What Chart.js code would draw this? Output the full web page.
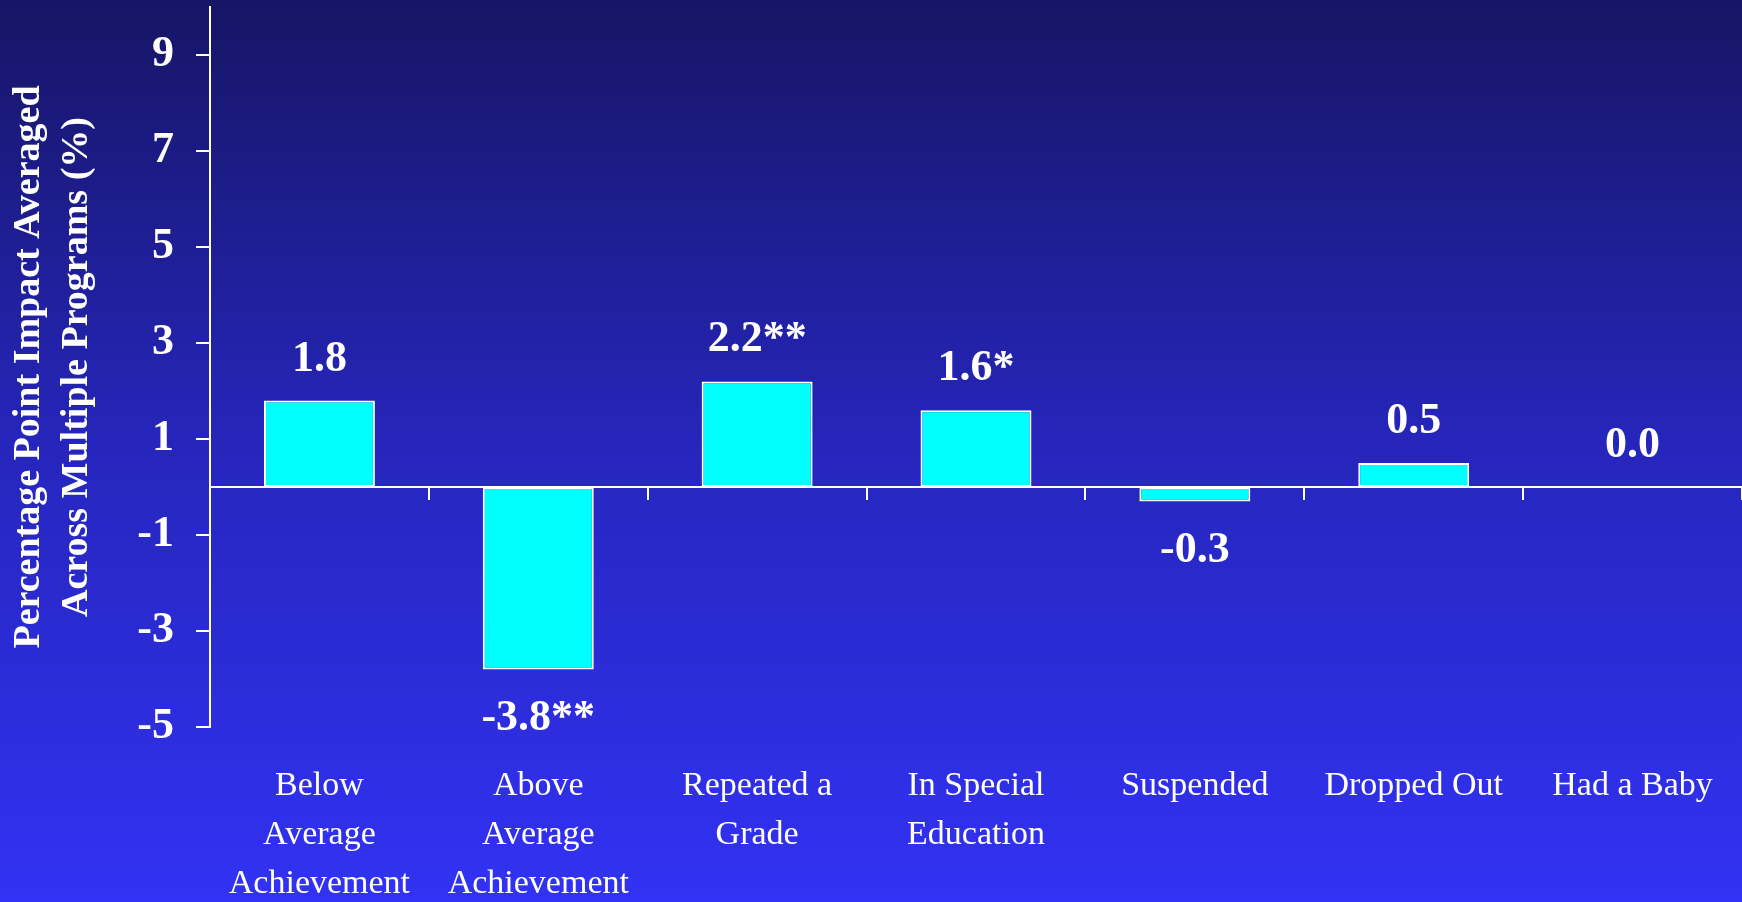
<!DOCTYPE html>
<html>
<head>
<meta charset="utf-8">
<script src="https://cdn.jsdelivr.net/npm/chart.js@4.4.1/dist/chart.umd.min.js"></script>
<style>
  html, body { margin: 0; padding: 0; background: #23239c; }
  #wrap { width: 1742px; height: 902px; position: relative; }
</style>
</head>
<body>
<div id="wrap"><canvas id="impactChart"></canvas></div>
<script>
const categories = [
    ['Below', 'Average', 'Achievement'],
    ['Above', 'Average', 'Achievement'],
    ['Repeated a', 'Grade'],
    ['In Special', 'Education'],
    ['Suspended'],
    ['Dropped Out'],
    ['Had a Baby']
];
const impact = [1.8, -3.8, 2.2, 1.6, -0.3, 0.5, 0.0];
const significance = ['', '**', '**', '*', '', '', ''];
const yTicks = [-5, -3, -1, 1, 3, 5, 7, 9];
const yTitle = ['Percentage Point Impact Averaged', 'Across Multiple Programs (%)'];

const serif = '"Liberation Serif", "Times New Roman", Times, serif';

// slide-style vertical gradient behind everything
const backdrop = {
    id: 'backdrop',
    beforeDraw(chart) {
        const {ctx, width, height} = chart;
        const g = ctx.createLinearGradient(0, 0, 0, height);
        g.addColorStop(0, '#161565');
        g.addColorStop(0.5, '#2626bd');
        g.addColorStop(1, '#3232f4');
        ctx.save();
        ctx.fillStyle = g;
        ctx.fillRect(0, 0, width, height);
        ctx.restore();
    }
};

// value (+ significance stars) above positive bars, below negative ones
const valueLabels = {
    id: 'valueLabels',
    afterDatasetsDraw(chart) {
        const {ctx} = chart;
        const meta = chart.getDatasetMeta(0);
        ctx.save();
        ctx.fillStyle = '#ffffff';
        ctx.font = 'bold 44px ' + serif;
        ctx.textAlign = 'center';
        ctx.textBaseline = 'alphabetic';
        meta.data.forEach((bar, i) => {
            const v = impact[i];
            const text = v.toFixed(1) + significance[i];
            const y = v >= 0 ? bar.y - 30 : bar.y + 61;
            ctx.fillText(text, bar.x, y);
        });
        ctx.restore();
    }
};

// stop the axes from reserving extra room for half-labels at their ends
function noEdgePadding(scale) {
    scale.paddingTop = 0;
    scale.paddingBottom = 0;
    scale.paddingLeft = 0;
    scale.paddingRight = 0;
}

const ctx = document.getElementById('impactChart').getContext('2d');
const impactChart = new Chart(ctx, {
    type: 'bar',
    data: {
        labels: categories,
        datasets: [{
            data: impact,
            backgroundColor: '#00ffff',
            borderColor: '#ffffff',
            borderWidth: 2,
            borderSkipped: false,
            categoryPercentage: 1,
            barPercentage: 0.507
        }]
    },
    options: {
        responsive: true,
        maintainAspectRatio: false,
        animation: false,
        layout: {
            padding: { top: 7, left: 0, right: 0, bottom: 0 }
        },
        scales: {
            x: {
                type: 'category',
                position: 'bottom',
                offset: true,
                grid: { display: false, drawTicks: false },
                border: { display: false },
                ticks: {
                    color: '#ffffff',
                    autoSkip: false,
                    maxRotation: 0,
                    padding: 35,
                    font: { family: serif, size: 34, lineHeight: 1.44 }
                },
                afterFit(scale) {
                    scale.height = 175;
                    noEdgePadding(scale);
                }
            },
            // zero line with the little category separators hanging off it
            x0: {
                type: 'category',
                axis: 'x',
                position: { y: 0 },
                offset: true,
                grid: {
                    display: true,
                    offset: true,
                    drawOnChartArea: false,
                    drawTicks: true,
                    tickLength: 12,
                    color: '#ffffff',
                    lineWidth: 2
                },
                border: { display: true, color: '#ffffff', width: 2 },
                ticks: { display: false },
                afterFit: noEdgePadding
            },
            y: {
                min: -5,
                max: 10,
                position: 'left',
                afterBuildTicks(scale) {
                    scale.ticks = yTicks.map(v => ({ value: v }));
                },
                grid: {
                    display: true,
                    drawOnChartArea: false,
                    drawTicks: true,
                    tickLength: 14,
                    color: '#ffffff',
                    lineWidth: 2
                },
                border: { display: true, color: '#ffffff', width: 2 },
                ticks: {
                    color: '#ffffff',
                    padding: 22,
                    font: { family: serif, size: 44, weight: 'bold' }
                },
                title: {
                    display: true,
                    text: yTitle,
                    color: '#ffffff',
                    padding: { top: 5, bottom: 0 },
                    font: { family: serif, size: 38, weight: 'bold', lineHeight: 1.26 }
                },
                afterFit(scale) {
                    scale.width = 210;
                    noEdgePadding(scale);
                }
            }
        },
        plugins: {
            legend: { display: false },
            tooltip: { enabled: false }
        }
    },
    plugins: [backdrop, valueLabels]
});
</script>
</body>
</html>
